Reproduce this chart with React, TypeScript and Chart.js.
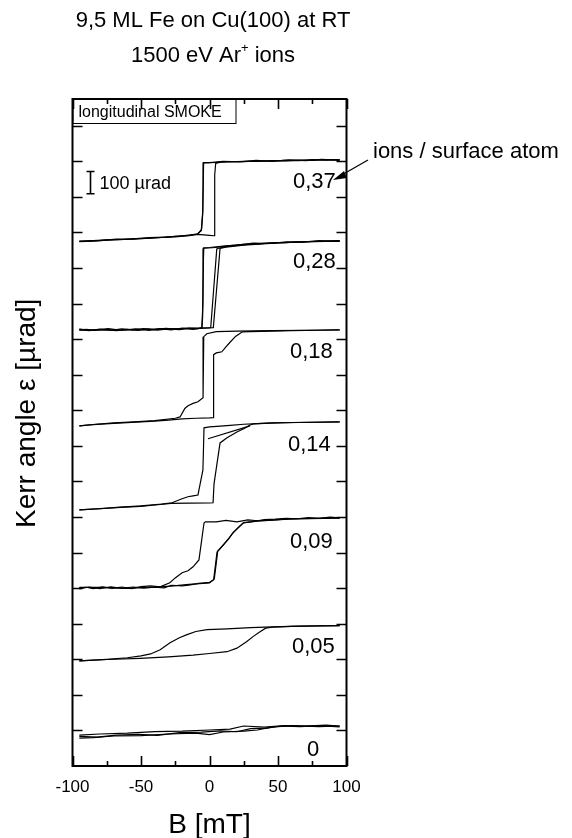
import React, { useEffect, useRef } from "react";
import { Chart, registerables } from "chart.js";
Chart.register(...registerables);

// ---------- data ----------
const FIELD_TICKS = [-100, -50, 0, 50, 100];
const FIELD_MINOR = [-75, -25, 25, 75];
const KERR_STEP = 160; // µrad between y ticks
const KERR_MAX = 3000;
const DOSES = ["0,37", "0,28", "0,18", "0,14", "0,09", "0,05", "0"];
const OFFSETS = [2358, 1962, 1530, 1152, 801, 473, 130]; // vertical offsets (µrad)

// [B (mT), Kerr angle (µrad, relative to offset)]
const d037Down = [[95,370],[85,367],[75,369],[65,365],[55,366],[45,363],[35,364],[25,360],[15,361],[5,357],[-4.3,355],[-4.6,250],[-5,120],[-5.8,55],[-8.4,36],[-15,28],[-25,24],[-35,19],[-45,16],[-55,12],[-65,10],[-75,7],[-85,3],[-95,0]];
const d037Up = [[-95,2],[-85,5],[-75,8],[-65,9],[-55,14],[-45,15],[-35,20],[-25,22],[-15,27],[-8.4,33],[0,29],[3.3,27],[3.6,120],[4,300],[4.5,352],[8,358],[15,359],[25,362],[35,361],[45,365],[55,364],[65,367],[75,366],[85,369],[95,368]];
const d037Down2 = [[95,366],[82,370],[70,365],[58,368],[46,362],[34,366],[22,359],[10,362],[0,356],[-4.5,356],[-4.9,140],[-6,50],[-9,34],[-20,27],[-32,21],[-44,19],[-56,13],[-68,12],[-80,5],[-95,3]];

const d028Down = [[95,400],[85,398],[75,396],[65,395],[55,392],[45,391],[35,386],[25,384],[15,379],[8,373],[2,369],[-4.2,367],[-4.7,250],[-5,60],[-5.5,10],[-8,5],[-15,6],[-22,1],[-30,4],[-38,-2],[-45,3],[-52,-3],[-60,2],[-68,-4],[-76,1],[-84,-3],[-90,2],[-95,-1]];
const d028Up = [[-95,2],[-88,-4],[-80,3],[-72,-2],[-64,4],[-56,0],[-48,5],[-40,1],[-32,6],[-24,3],[-16,8],[-8,6],[0,9],[0.9,10],[5.3,364],[8,369],[12,374],[20,380],[30,385],[40,389],[50,392],[60,393],[70,396],[80,398],[95,401]];
const d028Up2 = [[-95,-2],[-80,0],[-60,-1],[-40,3],[-20,5],[-5,8],[2.8,10],[7.7,366],[12,372],[25,381],[50,391],[75,397],[95,399]];
const d028Down2 = [[95,397],[80,401],[68,394],[56,396],[44,388],[32,390],[20,381],[10,376],[0,370],[-4.4,368],[-4.8,120],[-5.6,8],[-12,2],[-20,7],[-28,-1],[-36,5],[-44,-3],[-54,4],[-64,-2],[-74,5],[-86,-2],[-95,3]];

const d018Down = [[95,432],[70,430],[45,428],[20,426],[5,424],[-2,414],[-4.2,401],[-4.7,126],[-8.4,108],[-12,101],[-15.7,90],[-18,78],[-21.5,40],[-25,34],[-40,23],[-55,18],[-70,13],[-85,6],[-95,0]];
const d018Up = [[-95,0],[-85,5],[-70,11],[-60,14],[-50,18],[-40,21],[-30,26],[-20,31],[-10,34],[0,36],[2.6,37],[3,320],[5,328],[9,333],[12,355],[15,376],[19,402],[24,423],[30,424],[45,426],[60,428],[80,430],[95,432]];

const d014Down = [[95,396],[80,394],[65,393],[50,391],[35,388],[25,385],[15,380],[8,377],[0,373],[-4,369],[-4.8,180],[-7.7,90],[-8.4,67],[-12,63],[-15.7,59],[-20,50],[-27.4,32],[-35,26],[-50,18],[-65,12],[-80,6],[-95,0]];
const d014Up = [[-95,0],[-80,5],[-65,11],[-50,16],[-40,22],[-28,29],[-15,30],[0,31],[2.6,32],[3.3,117],[7.7,301],[12.8,324],[20,350],[25,365],[29.6,382],[32,387],[45,391],[60,393],[80,395],[95,396]];
const d014Init = [[-1.1,320],[29.6,378]];

const d009Down = [[95,315],[88,318],[80,313],[72,316],[64,311],[56,313],[48,309],[40,307],[35,302],[28,306],[20,297],[12,304],[5,297],[-3,297],[-4,292],[-7.7,126],[-12,95],[-15.7,77],[-20,68],[-25,45],[-29,23],[-36,5],[-43,9],[-50,6],[-57,-3],[-64,4],[-71,-2],[-78,5],[-85,-3],[-90,3],[-95,0]];
const d009Up = [[-95,-4],[-88,4],[-80,-3],[-72,5],[-64,-2],[-56,4],[-48,-1],[-40,3],[-33,0],[-28,12],[-20,9],[-14,14],[-8,20],[0,25],[3,36],[5.5,162],[10,193],[14,220],[17,247],[21,272],[24.5,292],[30,297],[35,302],[45,305],[55,309],[65,311],[75,313],[85,314],[95,316]];
const d009Up2 = [[-95,2],[-80,2],[-60,-2],[-40,4],[-28,8],[-15,16],[0,22],[3.5,40],[6,165],[10.5,196],[17.5,250],[25,294],[35,300],[60,310],[95,314]];

const d005Down = [[95,158],[80,157],[65,156],[46,153],[30,149],[12.8,144],[-1.8,140],[-10,132],[-16.4,118],[-22,104],[-28.8,81],[-36,50],[-43,31],[-50,22],[-60,14],[-75,7],[-95,0]];
const d005Up = [[-95,0],[-75,6],[-50.7,11],[-30,18],[-12,26],[0,33],[12.8,41],[20,57],[27,86],[32,110],[36.9,131],[41,147],[46,152],[60,155],[80,157],[95,158]];

const d000A = [[-95,9],[-80,14],[-60,18],[-40,25],[-20,27],[0,32],[15,36],[25,50],[40,45],[55,52],[70,50],[85,54],[95,50]];
const d000B = [[-95,-5],[-85,-2],[-70,5],[-50,7],[-30,14],[-10,18],[0,11],[10,23],[25,27],[35,32],[45,45],[60,52],[80,47],[95,50]];
const d000C = [[-95,3],[-82,0],[-68,9],[-52,12],[-38,8],[-22,20],[-6,22],[8,28],[20,24],[30,38],[42,40],[52,50],[66,47],[80,52],[95,46]];

const LOOPS = [
  [d037Down, d037Up, d037Down2],
  [d028Down, d028Up, d028Up2, d028Down2],
  [d018Down, d018Up],
  [d014Down, d014Up, d014Init],
  [d009Down, d009Up, d009Up2],
  [d005Down, d005Up],
  [d000A, d000B, d000C],
];

const TITLE1 = "9,5 ML Fe on Cu(100) at RT";
const TITLE2 = "1500 eV Ar";
const TITLE2_SUP = "+";
const TITLE2_END = " ions";
const LEGEND_TEXT = "longitudinal SMOKE";
const SCALE_BAR = 100; // µrad
const SCALE_TEXT = "100 \u00b5rad";
const DOSE_UNIT = "ions / surface atom";
const X_TITLE = "B [mT]";
const Y_TITLE = "Kerr angle \u03b5 [\u00b5rad]";

// ---------- layout (pixels) ----------
const FONT = '"Liberation Sans", Arial, Helvetica, sans-serif';
const LABEL_POS = [
  [293, 188], [293, 268], [290, 358], [288, 451], [290, 548], [292, 653], [307, 756],
];

export default function App() {
  const ref = useRef<HTMLCanvasElement | null>(null);
  useEffect(() => {
    if (!ref.current) return;
    const datasets: any[] = [];
    LOOPS.forEach((branches, i) => {
      branches.forEach((br) => {
        datasets.push({
          data: br.map(([b, e]) => ({ x: b, y: e + OFFSETS[i] })),
          borderColor: "#000",
          borderWidth: 1.2,
          pointRadius: 0,
          tension: 0,
          fill: false,
        });
      });
    });

    const deco = {
      id: "deco",
      beforeDraw(chart: any) {
        const ctx = chart.ctx;
        ctx.save();
        ctx.fillStyle = "#fff";
        ctx.fillRect(0, 0, chart.width, chart.height);
        ctx.restore();
      },
      afterDraw(chart: any) {
        const ctx = chart.ctx as CanvasRenderingContext2D;
        const { left, right, top, bottom } = chart.chartArea;
        const xs = chart.scales.x;
        const ys = chart.scales.y;
        ctx.save();
        ctx.fillStyle = "#000";
        ctx.strokeStyle = "#000";

        // legend box
        ctx.fillStyle = "#fff";
        ctx.fillRect(left, top, 164, 24);
        ctx.lineWidth = 1;
        ctx.strokeRect(left + 0.5, top + 0.5, 163, 24);
        ctx.fillStyle = "#000";
        ctx.font = `16px ${FONT}`;
        ctx.textAlign = "left";
        ctx.textBaseline = "alphabetic";
        ctx.fillText(LEGEND_TEXT, left + 6, top + 18);

        // frame
        ctx.lineWidth = 2;
        ctx.strokeRect(left, top, right - left, bottom - top);

        // x ticks (inward, bottom & top)
        ctx.lineWidth = 1.6;
        const xt = (vals: number[], len: number) => {
          vals.forEach((v) => {
            const px = Math.round(xs.getPixelForValue(v)) + 0.5;
            ctx.beginPath();
            ctx.moveTo(px, bottom);
            ctx.lineTo(px, bottom - len);
            ctx.moveTo(px, top);
            ctx.lineTo(px, top + len);
            ctx.stroke();
          });
        };
        xt(FIELD_TICKS, 10);
        xt(FIELD_MINOR, 5);

        // y ticks (inward, left & right)
        for (let v = KERR_STEP; v < KERR_MAX; v += KERR_STEP) {
          const py = Math.round(ys.getPixelForValue(v)) + 0.5;
          ctx.beginPath();
          ctx.moveTo(left, py);
          ctx.lineTo(left + 10, py);
          ctx.moveTo(right, py);
          ctx.lineTo(right - 10, py);
          ctx.stroke();
        }

        // x tick labels
        ctx.font = `17px ${FONT}`;
        ctx.textAlign = "center";
        FIELD_TICKS.forEach((v) => {
          ctx.fillText(String(v), xs.getPixelForValue(v), 792);
        });

        // axis titles
        ctx.font = `28px ${FONT}`;
        ctx.fillText(X_TITLE, (left + right) / 2, 833);
        ctx.save();
        ctx.translate(35, 528);
        ctx.rotate(-Math.PI / 2);
        ctx.textAlign = "left";
        ctx.fillText(Y_TITLE, 0, 0);
        ctx.restore();

        // title
        ctx.font = `22px ${FONT}`;
        ctx.textAlign = "center";
        ctx.fillText(TITLE1, 213, 27);
        const w1 = ctx.measureText(TITLE2).width;
        ctx.font = `13px ${FONT}`;
        const w2 = ctx.measureText(TITLE2_SUP).width;
        ctx.font = `22px ${FONT}`;
        const w3 = ctx.measureText(TITLE2_END).width;
        const startX = 213 - (w1 + w2 + w3) / 2;
        ctx.textAlign = "left";
        ctx.fillText(TITLE2, startX, 62);
        ctx.font = `13px ${FONT}`;
        ctx.fillText(TITLE2_SUP, startX + w1, 52);
        ctx.font = `22px ${FONT}`;
        ctx.fillText(TITLE2_END, startX + w1 + w2, 62);

        // dose labels
        ctx.font = `22px ${FONT}`;
        ctx.textAlign = "left";
        DOSES.forEach((d, i) => {
          ctx.fillText(d, LABEL_POS[i][0], LABEL_POS[i][1]);
        });

        // dose unit annotation + arrow
        ctx.fillText(DOSE_UNIT, 373, 158);
        ctx.lineWidth = 1.2;
        ctx.beginPath();
        ctx.moveTo(368, 160);
        ctx.lineTo(340, 176);
        ctx.stroke();
        ctx.beginPath();
        ctx.moveTo(333, 180);
        ctx.lineTo(344, 171);
        ctx.lineTo(347, 178);
        ctx.closePath();
        ctx.fill();

        // scale bar
        const barX = Math.round(xs.getPixelForValue(-87)) + 0.5;
        const yb = ys.getPixelForValue(2574);
        const yt = ys.getPixelForValue(2574 + SCALE_BAR);
        ctx.lineWidth = 1.6;
        ctx.beginPath();
        ctx.moveTo(barX, yb);
        ctx.lineTo(barX, yt);
        ctx.moveTo(barX - 4, yb);
        ctx.lineTo(barX + 4, yb);
        ctx.moveTo(barX - 4, yt);
        ctx.lineTo(barX + 4, yt);
        ctx.stroke();
        ctx.font = `18px ${FONT}`;
        ctx.fillText(SCALE_TEXT, barX + 9, (yb + yt) / 2 + 6);

        ctx.restore();
      },
    };

    const chart = new Chart(ref.current, {
      type: "line",
      data: { datasets },
      options: {
        responsive: false,
        devicePixelRatio: 1,
        animation: false,
        layout: { padding: { left: 72.5, top: 99, right: 225.5, bottom: 72 } },
        plugins: { legend: { display: false }, tooltip: { enabled: false } },
        scales: {
          x: { type: "linear", min: -100, max: 100, display: false },
          y: { type: "linear", min: 0, max: KERR_MAX, display: false },
        },
      },
      plugins: [deco],
    });
    return () => chart.destroy();
  }, []);

  return (
    <div style={{ position: "fixed", left: 0, top: 0, width: 572, height: 838, background: "#fff" }}>
      <canvas ref={ref} width={572} height={838} style={{ display: "block" }} />
    </div>
  );
}
